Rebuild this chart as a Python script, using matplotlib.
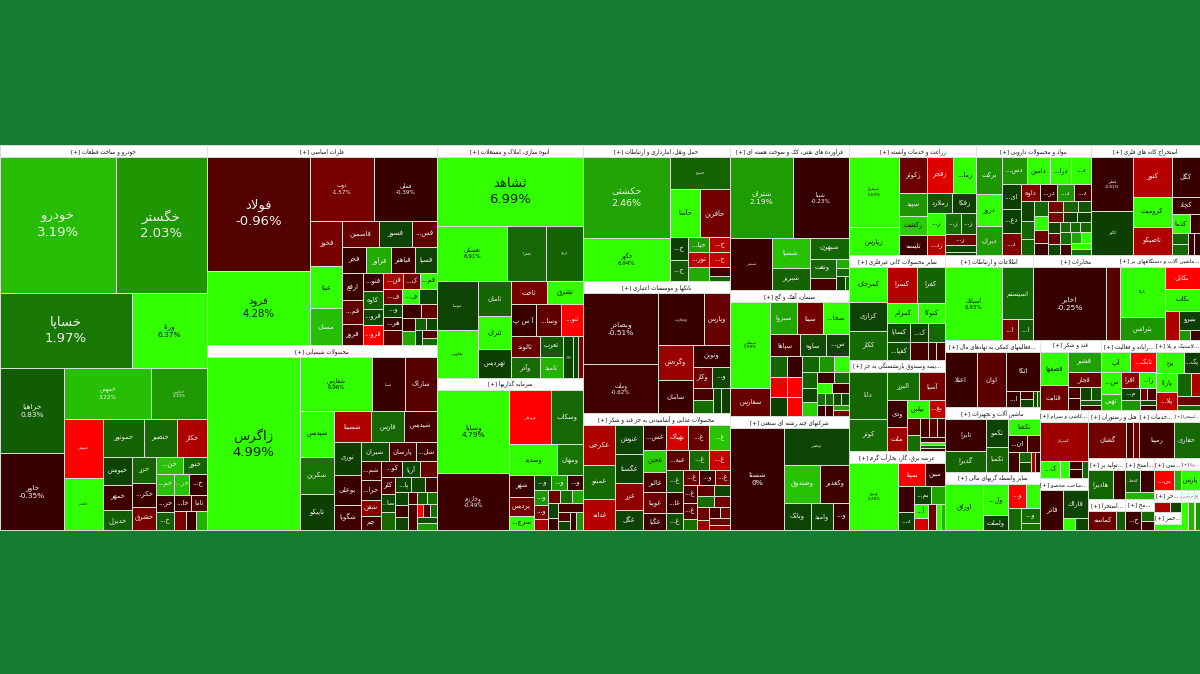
import matplotlib
matplotlib.use("Agg")
import numpy as np
import matplotlib.pyplot as plt
from matplotlib.patches import Rectangle

# ---------- top level ----------
SECTOR_KEYS = [["auto"], ["metal", "chem"], ["mass", "invest"], ["trans", "bank", "food"],
               ["energy", "cement", "multi"], ["agri", "drug", "mine"], ["miner", "bimeh", "power"],
               ["ict", "mokh", "elec"], ["faal", "mach", "fin"], ["sugar", "comp", "rubber"],
               ["kashi", "sakht"], ["hotel", "serv", "ext2"], ["tolid", "ext3"], ["ext4", "moh"],
               ["si", "rena"], ["khar", "hamr"], ["da", "moj", "plus"]]
SECTOR_SIZE = dict(auto=79695, metal=46000, chem=42550, mass=34018, invest=22192, trans=19992, bank=19404,
                   food=17199, energy=17255, cement=14994, multi=13566, agri=13970, drug=12650, mine=11990,
                   miner=10080, bimeh=8736, power=7584, ict=7480, mokh=7395, elec=6800, faal=6365, mach=6175,
                   fin=5510, sugar=4270, comp=3850, rubber=3080, kashi=3264, sakht=2496, hotel=2448, serv=1680,
                   ext2=1248, tolid=1517, ext3=1147, ext4=1189, moh=899, si=864, rena=608, khar=594, hamr=486,
                   da=285, moj=247, plus=228)
SECTOR_TITLE = dict(auto="خودرو و ساخت قطعات", metal="فلزات اساسی", chem="محصولات شیمیایی",
                    mass="انبوه سازی، املاک و مستغلات", invest="سرمایه گذاریها",
                    trans="حمل ونقل، انبارداری و ارتباطات", bank="بانکها و موسسات اعتباری",
                    food="محصولات غذایی و آشامیدنی به جز قند و شکر", energy="فراورده های نفتی، کک و سوخت هسته ای",
                    cement="سیمان، آهک و گچ", multi="شرکتهای چند رشته ای صنعتی", agri="زراعت و خدمات وابسته",
                    drug="مواد و محصولات دارویی", mine="استخراج کانه های فلزی", miner="سایر محصولات کانی غیرفلزی",
                    bimeh="...بیمه وصندوق بازنشستگی به جز", power="عرضه برق، گاز، بخارآب گرم",
                    ict="اطلاعات و ارتباطات", mokh="مخابرات", elec="...ماشین آلات و دستگاههای بر",
                    faal="...فعالیتهای کمکی به نهادهای مال", mach="ماشین آلات و تجهیزات",
                    fin="سایر واسطه گریهای مالی", sugar="قند و شکر", comp="...رایانه و فعالیت",
                    rubber="...لاستیک و پلا", kashi="...کاشی و سرام", sakht="...ساخت محصو", hotel="هتل و رستوران",
                    serv="...خدمات", ext2="...استخرا", tolid="...تولید بر", ext3="...استخرا", ext4="...استخ",
                    moh="...مح", si="...سی", rena="...رنا", khar="...خر", hamr="...حمر", da="...دا", moj="...مج",
                    plus="")
# strips whose direction is fixed, where the short side is too close to call
STRIP_FORCE = dict(miner={2: 'r'}, drug={7: 'r'}, cement={8: 'r'})

# ---------- tiles: names ("name|percent"), sizes and % change, grouped in strips ----------
auto_n = [["خودرو|3.19%", "خگستر|2.03%"], ["خساپا|1.97%", "ورنا|6.37%"], ["خراهیا|0.83%", "خاور|-0.35%"],
          ["خمهس|3.22%", "خپارس|2.10%"], ["خبهمن|", "خلنت|"], ["خموتور|", "خنصیر", "خکار"],
          ["خیویش", "خمهر", "خدیزل"], ["خزر", "خکر...", "خشرق"], ["خن...", "خنور"], ["خم...", "خر...", "خ..."],
          ["خر...", "خ..."], ["خا...", "ناما"], [""], [""], [""]]
auto_v = [[15410, 12194], [9825, 5625], [5332, 4836], [4350, 2800], [2280, 2014], [1517, 1221, 1110],
          [784, 728, 560], [621, 552, 552], [459, 408], [380, 300, 360], [323, 323], [255, 255], [216], [198], [198]]
auto_c = [[3.19, 2.03], [1.97, 6.37], [.83, -.35], [3.22, 2.1], [-5, 5], [1.0, 1.2, -3], [.3, -.6, .9],
          [1.0, -.5, -1.6], [3.3, 1.0], [3.3, 3.3, -.5], [-.4, .9], [-.5, -.8], [-1.8], [-.4], [3.0]]

metal_n = [["فولاد|-0.96%", "فرود|4.28%"], ["ذوب|-1.57%", "فملی|-0.39%"], ["فخوز", "عیتا", "مسان"],
           ["فاسمین", "فسوز", "فس..."], ["فجر", "فرآور", "فباهنر", "فسپا"], ["ارفع", "فم...", "فروز"],
           ["فنو...", "کاوه", "فرو...", "فرو..."], ["فن...", "ک...", "فم..."], ["ف...", "ف...", ""],
           ["و...", "هر...", ""], ["", ""], ["", ""], ["", ""], [""], [""], [""]]
metal_v = [[11413, 7474], [4030, 3906], [1440, 1312, 1184], [925, 850, 625], [600, 625, 600, 550],
           [540, 480, 420], [380, 360, 340, 400], [323, 272, 272], [270, 255, 255], [234, 252, 270], [247, 208],
           [168, 168], [143, 130], [105], [105], [105]]
metal_c = [[-.96, 4.28], [-1.57, -.39], [-1.6, 5, 3.2], [-1.3, .3, -1.2], [-.3, 2.8, -.5, .3], [-.4, -1.2, -.8],
           [-.4, .9, .4, -5], [-3, -1.5, 5], [-1.5, 5, .3], [.3, -.4, -1.0], [-.5, -1.2], [-.5, 2.8], [.9, .3],
           [.2], [-.9], [1.2]]

chem_n = [["زاگرس|4.99%"], ["شفارس|6.96%", "شپنا|", "شاراک|"], ["شپدیس|", "شکربن", "تاپیکو"],
          ["شسینا", "فارس", "شیدیس"], ["نوری", "بوعلی", "شگویا"], ["شیران", "پارسان", "شل..."],
          ["شم...", "خرا...", "شفن", "جم"], ["کو...", "آریا", ""], ["کلر", "سا...", ""], ["پا...", "", ""],
          ["", "", ""], ["", "", ""], [""], ["", "", ""], ["", ""]]
chem_v = [[15570], [3796, 1716, 1664], [1518, 1254, 1188], [1110, 990, 960], [858, 780, 650], [532, 513, 399],
          [380, 380, 320, 280], [320, 272, 256], [252, 252, 252], [224, 208, 176], [156, 144, 156],
          [117, 117, 117], [243], [72, 81, 90], [117, 126]]
chem_c = [[4.99], [6.96, -.4, -1.0], [5, 1.8, .2], [-3, 1.2, -.7], [.2, -.5, -.6], [.5, -.8, -.6], [-.7, -.6, -2, -.7],
          [-.8, .4, -1.3], [-.8, .4, 1.2], [.3, .4, -.6], [.4, -.6, .3], [-.8, .8, 1.5], [-.7], [-5, -.6, 1.5], [.5, 2.0]]

mass_n = [["ثشاهد|6.99%"], ["تعسکی|6.91%", "ثعمرا|", "ثرود|"], ["ثنوسا|", "ثفارس|"], ["ثامان", "ثتران", "تهردیس"],
          ["ثاخت", "ثشرق"], ["آ س پ", "وسا...", "ثنو..."], ["ثالوند", "وآذر"], ["تعرب", "ثامید"], ["نیج...", "", ""]]
mass_v = [[9782], [3726, 2106, 1944], [1911, 1911], [1122, 1089, 924], [828, 805], [775, 775, 651], [588, 588],
          [483, 483], [399, 190, 209]]
mass_c = [[6.99], [6.91, 1.2, 1.0], [.3, 5], [1.1, 5, .2], [-1.6, 5], [-.5, -1.2, -5], [-1.3, 1.4], [.8, 3.0],
          [.4, .3, -1.6]]

invest_n = [["وسایا|4.79%", "وخارزم|-0.49%"], ["وبوعلی|", "وسکاب|"], ["وسدید|", "ومهان"], ["شهر", "پردیس", "سرچ..."],
            ["و...", "و...", "و..."], ["و...", "و...", ""], ["", "", ""], ["", ""], [""], ["", ""], ["", ""]]
invest_v = [[5740, 3990], [2184, 1664], [1392, 754], [528, 432, 336], [256, 240, 240], [210, 195, 150],
            [154, 140, 140], [132, 110], [216], [108, 108], [108, 108]]
invest_c = [[4.79, -.49], [-5, 1.2], [5, 1.8], [-.5, -1.5, 5], [.5, 2.2, -.5], [2.0, -1.6, -3], [-1.4, 1.5, 2.5],
            [.3, -.4], [-.7], [-1.0, .4], [-.5, 2.0]]

trans_n = [["حکشتی|2.46%", "حگهر|6.94%"], ["حپترو|"], ["حآسا", "حآفرین"], ["ح...", "ح..."], ["حیا...", "ح..."],
           ["تور...", ""], ["ح..."], ["", ""]]
trans_v = [[6715, 3570], [1830], [1363, 1363], [414, 360], [320, 304], [294, 273], [294], [169, 104]]
trans_c = [[2.46, 6.94], [1.0], [5, -1.5], [.2, .8], [2.2, -3.2], [-3.3, 2.8], [-3.4], [-.4, 1.0]]

bank_n = [["وبصادر|-0.51%", "وملت|-0.62%"], ["وتجارت|", "وپارس"], ["وگردش", "سامان"], ["ونوین"], ["وکار", "و..."],
          ["", ""], ["", ""]]
bank_v = [[5110, 3504], [2250, 1300], [1155, 1089], [777], [380, 360], [240, 260], [192, 208]]
bank_c = [[-.51, -.62], [-.4, -1.3], [-2.5, -.4], [-.5], [-1.4, .4], [-.7, 1.5], [.3, .2]]

food_n = [["غکرجی", "غمینو", "غدانه"], ["غنوش", "غگستا", "غزر", "غگل"], ["غش...", "بهپاک", "غ...", "غ..."],
          ["عجین", "غالبر", "غوینا", "غگیا"], ["عبه...", "غ...", "غ..."], ["غ...", "غا...", "غ..."],
          ["غ...", "و...", "غ..."], ["غ...", "غ...", ""], ["", ""], ["", ""], ["", ""], ["", ""], ["", ""]]
food_v = [[1170, 990, 900], [756, 729, 702, 513], [528, 528, 480, 480], [460, 437, 437, 368], [396, 360, 360],
          [336, 304, 256], [240, 225, 210], [225, 210, 150], [165, 154], [165, 154], [144, 105], [120, 105], [120, 105]]
food_c = [[-3, 1.3, -3.2], [.3, .3, -2.2, .3], [-.6, -4, -1.3, 3.3], [3.5, -.8, -1.4, -.6], [-1.1, 1.4, -3.6],
          [.7, -.5, .6], [-1.3, -.6, -1.6], [-.8, -.9, 1.6], [-1.2, .3], [1.5, -1.5], [-1.4, -2.4], [-.8, -1.5], [-1.5, -2.2]]

energy_n = [["شتران|2.19%", "شپنا|-0.23%"], ["شبندر|"], ["شسپا", "شبریز"], ["شبهرن"], ["ونفت", ""], [""], [""], ["", ""]]
energy_v = [[4836, 4368], [2067], [1073, 814], [780], [468, 312], [117], [104], [117, 52]]
energy_c = [[2.19, -.23], [-.3], [3.3, 1.0], [1.1], [1.2, -.7], [2.8], [1.3], [.2, 1.0]]

cement_n = [["سیمانی|5.99%", "سفارس"], ["سبزوا", "سیتا", "سخا..."], ["سپاها", "ساوه", "س..."], ["", "", ""], ["", "", ""],
            ["", "", ""], ["", "", ""], ["", ""], ["", ""], ["", ""], ["", ""], ["", ""], ["", ""]]
cement_v = [[3315, 1092], [837, 775, 806], [638, 572, 484], [340, 323, 306], [300, 285, 270], [256, 224, 224],
            [225, 210, 195], [176, 154], [150, 170], [88, 88], [88, 88], [88, 88], [88, 88]]
cement_c = [[5.99, -1.3], [2.6, -1.5, 5], [-.8, .5, .3], [1.1, -4.5, .2], [-.4, -5, -5], [1.1, 2, 5],
            [1.0, .3, 3.5], [-.5, 1.4], [5, -.6], [1.6, -.5], [1.2, -.4], [.5, .4], [2.5, -1.6]]

multi_n = [["شستا|0%"], ["وپخش|"], ["وصندوق", "وکغدیر"], ["وبانک"], ["وامید"], ["و..."]]
multi_v = [[5252], [2275], [1332, 1036], [702], [594], [405]]
multi_c = [[-.3], [.3], [3.3, -.6], [.3], [.4], [-.5]]

agri_n = [["سیمرغ|5.60%", "زپارس"], ["زکوثر", "زفجر", "زما..."], ["سپید", "زکشت", "تلیسه"], ["زملارد", "زفکا"],
          ["ز...", "زد..."], ["ز...", "ز..."], ["ز...", "", ""]]
agri_v = [[3243, 1269], [918, 884, 748], [594, 513, 513], [475, 437], [357, 340], [315, 285], [315, 180, 90]]
agri_c = [[5.6, 5], [-1.4, -4.2, 4.5], [2.0, 3.5, -.5], [.7, .2], [4.5, -3.2], [1.6, .8], [-1.5, .4, .3]]

drug_n = [["برکت", "دروز", "دیران"], ["دس...", "دامین", "درا...", "د..."], ["ای...", "دع...", "د..."],
          ["داوه", "در...", "د...", "د..."], ["", "", ""], ["", "", "", ""], ["", "", ""], ["", "", ""], ["", "", ""],
          ["", "", ""], ["", ""], ["", ""], ["", ""]]
drug_v = [[864, 744, 672], [624, 572, 520, 494], [456, 418, 399], [306, 272, 272, 272], [234, 221, 195],
          [182, 182, 168, 154], [154, 143, 132], [140, 130, 130], [123, 123, 123], [96, 96, 96], [110, 110], [100, 100],
          [110, 110]]
drug_c = [[2.0, 5, 2.2], [2.0, 4.5, 5, 5], [.2, .2, -1.8], [-1.8, -.5, 2.0, -.7], [.3, 1.1, 1.0], [1.1, 5, -1.4, -.6],
          [-1.6, 1.0, .7], [-1.6, .2, .2], [.3, -1.3, .3], [1.2, 1.3, 1.0], [1.6, -.7], [2.5, 5], [4, 1.5]]

mine_n = [["فملی|-0.81%", "کگهر|"], ["کنور|", "کگل"], ["کرومیت", "تاصیکو"], ["کچاد"], ["کدما", ""], ["", ""], ["", ""]]
mine_v = [[2067, 1677], [1406, 1026], [1073, 999], [448], [324, 180], [160, 160], [120, 120]]
mine_c = [[-.3, .2], [-3.2, -.4], [5, -3], [-.4], [5, -.4], [1.0, 1.2], [-.6, -.4]]

miner_n = [["کمرجان", "کزازی", "ککار"], ["کسرا", "کفرا"], ["کمرام", "کنوکا"], ["کساپا", "کفپا..."], ["ک...", ""], [""], ["", ""]]
miner_v = [[1188, 972, 972], [957, 891], [570, 475], [396, 374], [306, 289], [270], [135, 135]]
miner_c = [[5, .3, 1.3], [-3.2, 1.0], [5, 5], [.5, .6], [.2, 1.2], [-.7], [-.7, -.7]]

bimeh_n = [["دانا|", "کوتر"], ["البرز", "آسیا"], ["ودی", "ملت"], ["بپاس", "بغ..."], ["", ""], ["", "", ""], ["", "", "", ""]]
bimeh_v = [[1610, 1120], [806, 650], [513, 437], [357, 272], [192, 180], [154, 140, 140], [110, 70, 70, 70]]
bimeh_c = [[1.1, 1.3], [1.5, -1.5], [-.5, -2.6], [5, -3.5], [-1.0, 1.5], [-.7, -1.0, -.5], [-.6, 4, .8, -.8]]

power_n = [["ونیرو|5.28%"], ["بمپنا", "مبین"], ["", "د..."], ["بم...", ""], ["آ...", ""], ["", "", ""]]
power_v = [[3082], [594, 418], [375, 270], [289, 221], [196, 154], [192, 128, 96]]
power_c = [[5.28], [-5, -.4], [-.5, .2], [.3, 2.5], [5, -4], [-1.4, 5, 3]]

ict_n = [["اسپاتك|6.93%"], ["اسیستم|"], ["ا..."], ["ا..."]]
ict_v = [[4032], [1581], [320], [300]]
ict_c = [[6.93], [1.3], [-1.6], [.8]]

mokh_n = [["اخابر|-0.25%"], [""]]
mokh_v = [[5184], [1008]]
mokh_c = [[-.25], [-1.1]]

elec_n = [["بایکا|", "بترانس"], ["بکابل"], ["بکاب"], [""], ["بنیرو"], [""], [""]]
elec_v = [[2156, 1012], [748], [748], [420], [378], [110], [100]]
elec_c = [[5, 2.0], [-5], [5], [-3], [.2], [2.0], [-.6]]

faal_n = [["اعتلا|"], ["اوان|"], ["اتکا|"], ["ا..."], ["", ""], ["", ""]]
faal_v = [[1650], [1540], [1254], [224], [104, 104], [50, 50]]
faal_c = [[-.4], [-1.1], [-.4], [-.5], [-.7, .3], [.4, 1.0]]

mach_n = [["تایرا", "گدیرا"], ["تکمو", "تکمبا"], ["تکشا"], ["ان...", ""], [""], ["", ""], ["", ""]]
mach_v = [[1200, 800], [567, 504], [465], [289, 204], [200], [120, 120], [80, 80]]
mach_c = [[-.5, 1.0], [.3, 1.0], [5], [-.5, -.7], [-.6], [1.2, .3], [-2.6, -.6]]

fin_n = [["اوراق|"], ["ول...", "ولملت"], ["و...", ""], [""], ["و..."], [""]]
fin_v = [[1656], [720, 360], [414, 322], [276], [270], [126]]
fin_c = [[5], [5, .2], [-5, 5], [1.2], [1.3], [1.6]]

sugar_n = [["قصفها", "قثابت"], ["قشیر"], ["قجار"], ["", ""], ["", ""], ["", ""]]
sugar_v = [[800, 600], [594], [429], [132, 132], [121, 121], [88, 88]]
sugar_c = [[5, -1.4], [2.4], [-1.3], [-.8, -.6], [.3, .7], [.8, -.7]]

comp_n = [["آپ", "تابک..."], ["س...", "تهیی"], ["افرا", "زا..."], ["م...", ""], ["", ""], ["", ""]]
comp_v = [[486, 432], [378, 270], [255, 225], [204, 170], [80, 90], [60, 70]]
comp_c = [[5, -5], [5, 3.3], [-2.0, 4.5], [.3, 2.0], [-1.4, -.8], [.5, -.7]]

rubber_n = [["یزد", "پک..."], ["پارتا", "پلا..."], ["", ""], ["", ""]]
rubber_v = [[520, 300], [342, 323], [286, 169], [176, 104]]
rubber_c = [[5, .2], [5, -3.3], [1.0, -3], [-1.3, 1.0]]

kashi_n = [["کسرام|"], ["ک..."], [""], ["", ""], [""]]
kashi_v = [[1610], [306], [136], [102, 102], [85]]
kashi_c = [[-2.6], [5], [4.5], [-.6, -.4], [1.0]]

sakht_n = [["فاذر"], ["فاراك"], [""], [""]]
sakht_v = [[840], [648], [132], [144]]
sakht_c = [[-.5], [.3], [5], [.3]]

hotel_n = [["گشان|"], ["", ""]]
hotel_v = [[1224], [204, 190]]
hotel_c = [[-1.5], [-.8, -1.4]]

serv_n = [["رمپنا"]]
serv_v = [[1088]]
serv_c = [[-.6]]

ext2_n = [["حفاری"]]
ext2_v = [[884]]
ext2_c = [[1.2]]

tolid_n = [["هادیرا"], [""]]
tolid_v = [[644], [308]]
tolid_c = [[1.1], [-.5]]

ext3_n = [["کماسه"], [""]]
ext3_v = [[540], [160]]
ext3_c = [[-1.4], [.8]]

ext4_n = [["کخط...", ""], [""]]
ext4_v = [[252, 252], [168]]
ext4_c = [[.8, -.5], [3.0]]

moh_n = [["ح..."], [""], [""]]
moh_v = [[300], [120], [120]]
moh_c = [[-.5], [1.2], [-.6]]

si_n = [["بی..."], [""]]
si_v = [[324], [108]]
si_c = [[-5], [3]]

rena_n = [["پارس"]]
rena_v = [[304]]
rena_c = [[5]]

khar_n = [[""], [""]]
khar_v = [[195], [130]]
khar_c = [[-3], [.3]]

hamr_n = [[""]]
hamr_v = [[182]]
hamr_c = [[5]]

da_n = [[""]]
da_v = [[95]]
da_c = [[5]]

moj_n = [[""]]
moj_v = [[57]]
moj_c = [[3]]

plus_n = [[""]]
plus_v = [[20]]
plus_c = [[2]]

# ---------- Arabic shaping (matplotlib has no bidi / joining) ----------
FORMS = {'ا': (0xFE8D, 0xFE8E), 'آ': (0xFE81, 0xFE82), 'ب': (0xFE8F, 0xFE90, 0xFE91, 0xFE92), 'پ': (0xFB56, 0xFB57, 0xFB58, 0xFB59),
         'ت': (0xFE95, 0xFE96, 0xFE97, 0xFE98), 'ث': (0xFE99, 0xFE9A, 0xFE9B, 0xFE9C), 'ج': (0xFE9D, 0xFE9E, 0xFE9F, 0xFEA0),
         'چ': (0xFB7A, 0xFB7B, 0xFB7C, 0xFB7D), 'ح': (0xFEA1, 0xFEA2, 0xFEA3, 0xFEA4), 'خ': (0xFEA5, 0xFEA6, 0xFEA7, 0xFEA8),
         'د': (0xFEA9, 0xFEAA), 'ذ': (0xFEAB, 0xFEAC), 'ر': (0xFEAD, 0xFEAE), 'ز': (0xFEAF, 0xFEB0), 'ژ': (0xFB8A, 0xFB8B),
         'س': (0xFEB1, 0xFEB2, 0xFEB3, 0xFEB4), 'ش': (0xFEB5, 0xFEB6, 0xFEB7, 0xFEB8), 'ص': (0xFEB9, 0xFEBA, 0xFEBB, 0xFEBC),
         'ض': (0xFEBD, 0xFEBE, 0xFEBF, 0xFEC0), 'ط': (0xFEC1, 0xFEC2, 0xFEC3, 0xFEC4), 'ظ': (0xFEC5, 0xFEC6, 0xFEC7, 0xFEC8),
         'ع': (0xFEC9, 0xFECA, 0xFECB, 0xFECC), 'غ': (0xFECD, 0xFECE, 0xFECF, 0xFED0), 'ف': (0xFED1, 0xFED2, 0xFED3, 0xFED4),
         'ق': (0xFED5, 0xFED6, 0xFED7, 0xFED8), 'ک': (0xFB8E, 0xFB8F, 0xFB90, 0xFB91), 'گ': (0xFB92, 0xFB93, 0xFB94, 0xFB95),
         'ل': (0xFEDD, 0xFEDE, 0xFEDF, 0xFEE0), 'م': (0xFEE1, 0xFEE2, 0xFEE3, 0xFEE4), 'ن': (0xFEE5, 0xFEE6, 0xFEE7, 0xFEE8),
         'و': (0xFEED, 0xFEEE), 'ه': (0xFEE9, 0xFEEA, 0xFEEB, 0xFEEC), 'ی': (0xFBFC, 0xFBFD, 0xFBFE, 0xFBFF),
         'ك': (0xFED9, 0xFEDA, 0xFEDB, 0xFEDC)}


def shape(s):
    s = s.replace('لا', '\uFEFB').replace('لآ', '\uFEF5')
    out = []
    for i, ch in enumerate(s):
        if ch not in FORMS:
            out.append(ch)
            continue
        f = FORMS[ch]
        prev = s[i - 1] if i else ''
        nxt = s[i + 1] if i + 1 < len(s) else ''
        joins_prev = prev in FORMS and len(FORMS[prev]) == 4
        joins_next = len(f) == 4 and (nxt in FORMS or nxt in '\uFEFB\uFEF5') and nxt != ''
        if joins_prev and joins_next:
            out.append(chr(f[3]))
        elif joins_prev:
            out.append(chr(f[1]))
        elif joins_next:
            out.append(chr(f[2]))
        else:
            out.append(chr(f[0]))
    res = []
    for i, ch in enumerate(out):
        if ch in '\uFEFB\uFEF5':
            prev = s[i - 1] if i else ''
            if prev in FORMS and len(FORMS[prev]) == 4:
                ch = chr(ord(ch) + 1)
        res.append(ch)
    return ''.join(res)[::-1]


# ---------- colour scale ----------
def colour(c):
    if c > 0:
        g = np.interp(c, [0, .5, 1, 1.98, 2, 3, 3.9, 4], [55, 75, 100, 120, 150, 178, 230, 255])
        return (g / 5 / 255, g / 255, 0.01)
    r = np.interp(-c, [0, .5, 1, 1.6, 3, 4.5, 5], [52, 58, 85, 120, 175, 235, 255])
    return (r / 255, 0, 0)


def font_size(w, h):
    s = (w * h) ** .5
    for lim, fs in [(95, 9.5), (84, 7.3), (79, 6.8), (68, 5.4), (60, 4.1), (42, 3.0)]:
        if s >= lim:
            return fs
    return 4.9


# ---------- strip treemap: a strip runs along the short side of what is left ----------
def layout(strips, x0, y0, x1, y1, force=None):
    total = float(sum(sum(s) for s in strips))
    force = force or {}
    out = []
    for i, strip in enumerate(strips):
        ssum = float(sum(strip))
        w, h = x1 - x0, y1 - y0
        rects = []
        as_row = w < h if i not in force else force[i] == 'r'
        if as_row:
            t = h * ssum / total
            x = x0
            for v in strip:
                d = w * v / ssum
                rects.append((x, y0, d, t))
                x += d
            y0 += t
        else:
            t = w * ssum / total
            y = y0
            for v in strip:
                d = h * v / ssum
                rects.append((x0, y, t, d))
                y += d
            x0 += t
        total -= ssum
        out.append(rects)
    return out


BG = '#177b32'
MAP_BOX = (0, 145, 1200, 530)
HEAD = 12

fig = plt.figure(figsize=(12, 6.74), dpi=100, facecolor=BG)
ax = fig.add_axes([0, 0, 1, 1])
ax.set_xlim(0, 1200)
ax.set_ylim(674, 0)
ax.axis('off')
plt.rcParams['font.family'] = ['DejaVu Sans']
renderer = fig.canvas.get_renderer()


def fit(text, w, h, floor=1.6):
    """Shrink a text until it stays inside the w x h pixels of its box."""
    box = text.get_window_extent(renderer)
    ratio = min((w - 1.5) / max(box.width, 1), (h - .5) / max(box.height, 1))
    if ratio < 1:
        text.set_fontsize(max(text.get_fontsize() * ratio, floor))


top_values = [[SECTOR_SIZE[k] for k in col] for col in SECTOR_KEYS]
top_rects = layout(top_values, *MAP_BOX)
g = globals()
for col, rects in zip(SECTOR_KEYS, top_rects):
    for key, (x, y, w, h) in zip(col, rects):
        ax.add_patch(Rectangle((x, y), w, h, fc='white', ec='#e4e4e4', lw=.6, zorder=1))
        title = ('[+] ' + shape(SECTOR_TITLE[key])).strip()
        head = ax.text(x + w / 2, y + 6.3, title, ha='center', va='center', fontsize=4.0, color='#111111', zorder=4)
        fit(head, w, 12)
        names, values, changes = g[key + '_n'], g[key + '_v'], g[key + '_c']
        boxes = layout(values, x + .3, y + HEAD, x + w - .3, y + h, STRIP_FORCE.get(key))
        for ns, cs, rs in zip(names, changes, boxes):
            for name, c, (tx, ty, tw, th) in zip(ns, cs, rs):
                ax.add_patch(Rectangle((tx, ty), tw, th, fc=colour(c), ec='#d9e2d5', lw=.7, zorder=2))
                if name:
                    parts = name.split('|')
                    label = shape(parts[0])
                    if len(parts) > 1 and parts[1]:
                        label += '\n' + parts[1]
                    t = ax.text(tx + tw / 2, ty + th / 2, label, ha='center', va='center',
                                fontsize=font_size(tw, th), linespacing=1.3,
                                color='#0c1f00' if c >= 3.5 else '#f2f2f2', zorder=3)
                    fit(t, tw, th)

fig.savefig('out.png', dpi=100, facecolor=BG)
